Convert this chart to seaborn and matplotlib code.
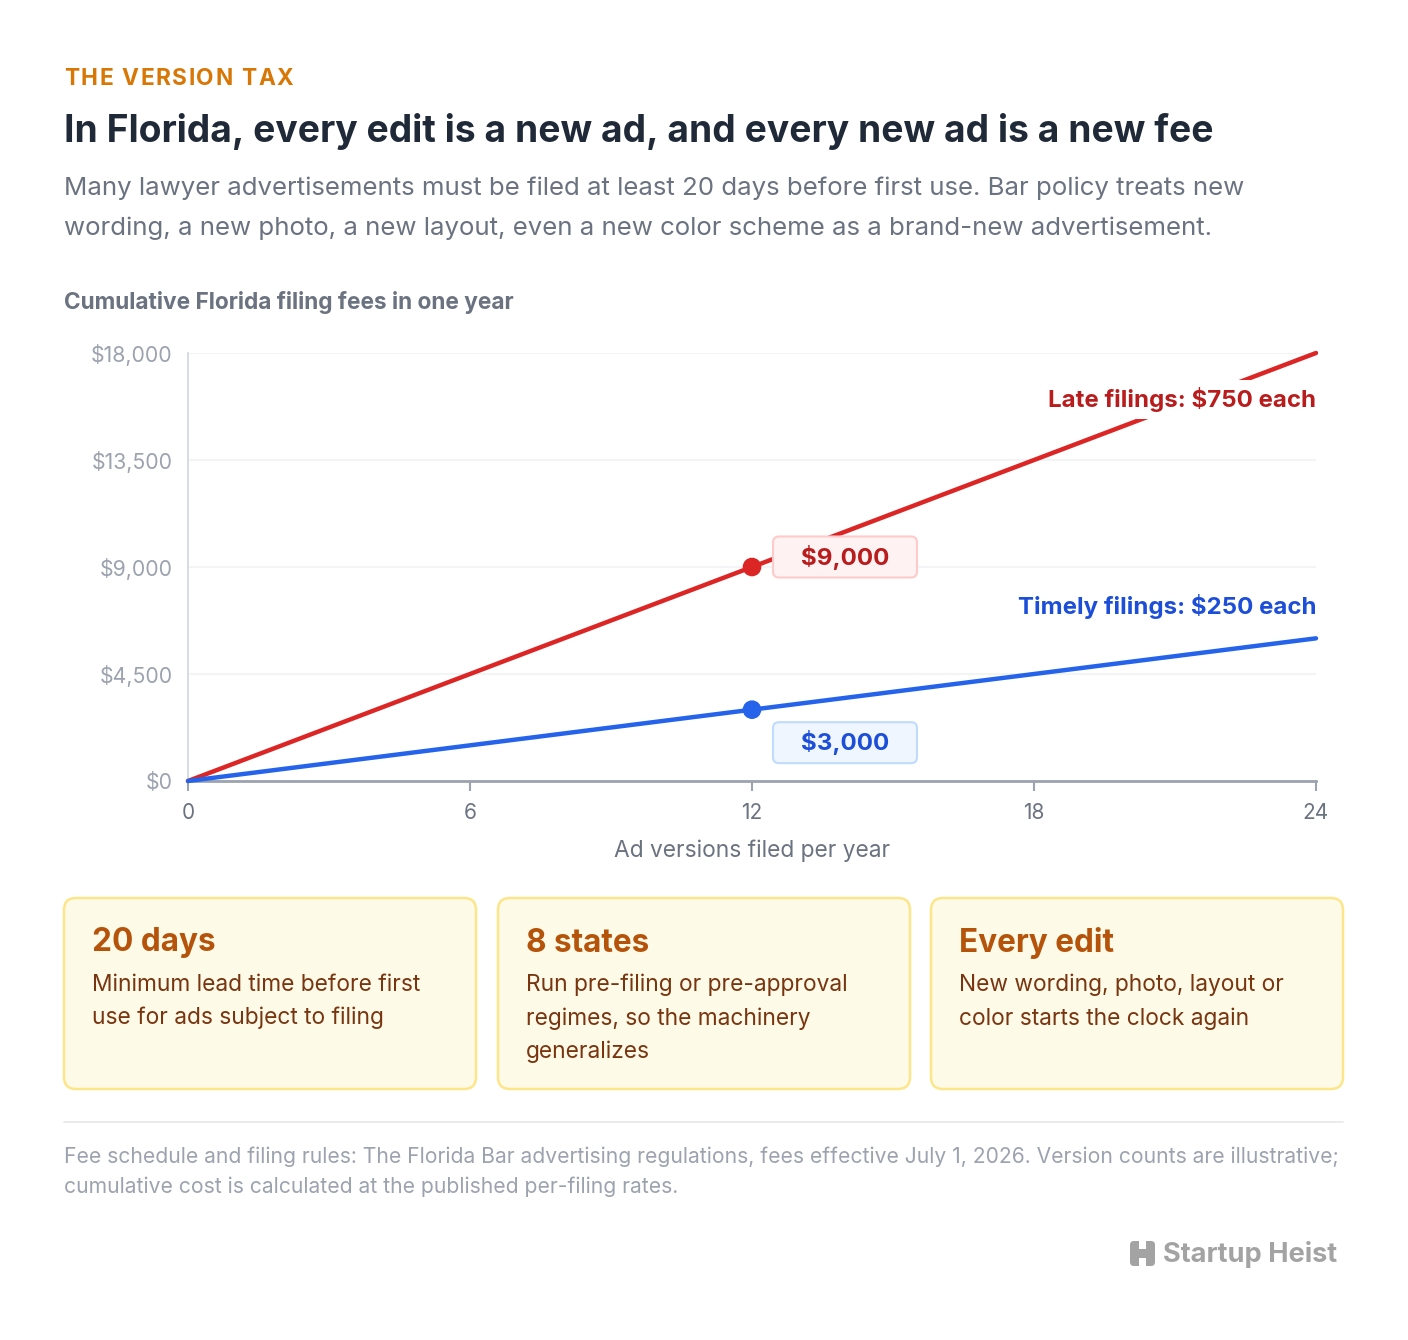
import numpy as np
import pandas as pd
import matplotlib.pyplot as plt
import seaborn as sns
from matplotlib.patches import FancyBboxPatch, Rectangle
from matplotlib.transforms import Affine2D, ScaledTranslation

# --- data ---
versions = [0, 6, 12, 18, 24]
late_fees = [0, 4500, 9000, 13500, 18000]
timely_fees = [0, 1500, 3000, 4500, 6000]
highlight_idx = 2  # 12 versions
y_ticks = [0, 4500, 9000, 13500, 18000]
x_ticks = [0, 6, 12, 18, 24]

cards = [
    ("20 days", "Minimum lead time before first\nuse for ads subject to filing"),
    ("8 states", "Run pre-filing or pre-approval\nregimes, so the machinery\ngeneralizes"),
    ("Every edit", "New wording, photo, layout or\ncolor starts the clock again"),
]

RED, RED_DARK = "#DC2626", "#B91C1C"
BLUE, BLUE_DARK = "#2563EB", "#1D4ED8"
W, H = 1408, 1340

sns.set_theme(style="white")
plt.rcParams["font.family"] = ["Inter", "DejaVu Sans"]

fig = plt.figure(figsize=(W / 100, H / 100), dpi=100)
fig.patch.set_facecolor("white")
renderer = fig.canvas.get_renderer()

# background layer in pixel coordinates for text blocks and cards
bg = fig.add_axes([0, 0, 1, 1], zorder=0)
bg.set_xlim(0, W)
bg.set_ylim(H, 0)
bg.axis("off")

# kicker with letter spacing: draw char by char
x = 64
for ch in "THE VERSION TAX":
    t = bg.text(x, 79, ch, color="#D97706", fontsize=16.3, fontweight="bold",
                va="center", ha="left")
    x += t.get_window_extent(renderer).width + 1.6 if ch != " " else 7

bg.text(64, 131, "In Florida, every edit is a new ad, and every new ad is a new fee",
        color="#1F2937", fontsize=26.8, fontweight="bold", va="center", ha="left")
bg.text(64, 208, "Many lawyer advertisements must be filed at least 20 days before first use. Bar policy treats new\n"
        "wording, a new photo, a new layout, even a new color scheme as a brand-new advertisement.",
        color="#6B7280", fontsize=18.6, va="center", ha="left", linespacing=1.9)
bg.text(64, 302, "Cumulative Florida filing fees in one year", color="#6B7280", fontsize=16.3,
        fontweight="bold", va="center", ha="left")

# stat cards
card_x = [64, 498, 931]
for (head, body), cx in zip(cards, card_x):
    bg.add_patch(FancyBboxPatch((cx, 898), 412, 191, boxstyle="round,pad=0,rounding_size=12",
                                facecolor="#FEFAE8", edgecolor="#FDE68A", linewidth=1.8))
    bg.text(cx + 28, 943, head, color="#B45309", fontsize=22.7, fontweight="bold",
            va="center", ha="left")
    bg.text(cx + 28, 974, body, color="#78350F", fontsize=16.4, va="top", ha="left",
            linespacing=1.62)

bg.plot([64, 1343], [1122, 1122], color="#E5E7EB", linewidth=1.2)
bg.text(64, 1172, "Fee schedule and filing rules: The Florida Bar advertising regulations, fees effective July 1, 2026. Version counts are illustrative;\n"
        "cumulative cost is calculated at the published per-filing rates.",
        color="#9CA3AF", fontsize=15.2, va="center", ha="left", linespacing=1.58)

# logo
bg.add_patch(FancyBboxPatch((1130, 1241), 25, 25, boxstyle="round,pad=0,rounding_size=4",
                            facecolor="#A3A3A3", edgecolor="none"))
bg.add_patch(Rectangle((1139, 1241), 7, 8, facecolor="white", edgecolor="none"))
bg.add_patch(Rectangle((1139, 1258), 7, 8, facecolor="white", edgecolor="none"))
bg.text(1163, 1254, "Startup Heist", color="#A3A3A3", fontsize=19.6, fontweight="bold",
        va="center", ha="left")

# --- chart ---
ax = fig.add_axes([188 / W, 1 - 781 / H, (1316 - 188) / W, (781 - 353) / H], zorder=1)
ax.patch.set_alpha(0)

df = pd.DataFrame({
    "versions": versions * 2,
    "fees": late_fees + timely_fees,
    "series": ["late"] * len(versions) + ["timely"] * len(versions),
})
sns.lineplot(data=df, x="versions", y="fees", hue="series",
             palette={"late": RED, "timely": BLUE}, linewidth=3.2, legend=False,
             ax=ax, zorder=3, clip_on=False)

hx = versions[highlight_idx]
pts = pd.DataFrame({"x": [hx, hx], "y": [late_fees[highlight_idx], timely_fees[highlight_idx]],
                    "series": ["late", "timely"]})
sns.scatterplot(data=pts, x="x", y="y", hue="series", palette={"late": RED, "timely": BLUE},
                s=180, edgecolor="none", legend=False, ax=ax, zorder=4, clip_on=False)

ax.set_xlim(versions[0], versions[-1])
ax.set_ylim(y_ticks[0], y_ticks[-1])
ax.set_xticks(x_ticks)
ax.set_yticks(y_ticks)
ax.set_yticklabels([f"${v:,.0f}" for v in y_ticks])
ax.tick_params(axis="y", length=0, pad=11, labelsize=15.3, labelcolor="#9CA3AF")
ax.tick_params(axis="x", length=7, width=1.5, color="#9CA3AF", pad=9, labelsize=15,
               labelcolor="#6B7280", direction="out", bottom=True)
ax.set_xlabel("Ad versions filed per year", fontsize=16.4, color="#6B7280", labelpad=12)
ax.set_ylabel("")
ax.grid(axis="y", color="#F3F4F6", linewidth=1.5)
ax.set_axisbelow(True)
for side in ["top", "right"]:
    ax.spines[side].set_visible(False)
ax.spines["left"].set_color("#D1D5DB")
ax.spines["left"].set_linewidth(1.2)
ax.spines["bottom"].set_color("#9CA3AF")
ax.spines["bottom"].set_linewidth(2)

# series labels at the right edge, on a white backing that hides the line
label_box = dict(boxstyle="square,pad=0.3", facecolor="white", edgecolor="none")
ax.text(versions[-1], 16050, "Late filings: $750 each", color=RED_DARK, fontsize=17.3,
        fontweight="bold", ha="right", va="center", bbox=label_box, zorder=5)
ax.text(versions[-1], 7320, "Timely filings: $250 each", color=BLUE_DARK, fontsize=17.3,
        fontweight="bold", ha="right", va="center", bbox=label_box, zorder=5)


def value_box(x, y, label, dy, face, edge, color):
    # box placed by pixel offset from the highlighted data point
    tr = Affine2D() + ScaledTranslation(x, y, ax.transData)
    w, h = 144, 41
    ax.add_patch(FancyBboxPatch((21, dy - h / 2), w, h, boxstyle="round,pad=0,rounding_size=6",
                                facecolor=face, edgecolor=edge, linewidth=1.5,
                                transform=tr, zorder=5, clip_on=False))
    ax.annotate(label, xy=(x, y), xytext=(21 + w / 2, dy), textcoords="offset pixels",
                ha="center", va="center", color=color, fontsize=17.4, fontweight="bold",
                zorder=6)


value_box(hx, late_fees[highlight_idx], f"${late_fees[highlight_idx]:,}", 10,
          "#FEF2F2", "#FECACA", RED_DARK)
value_box(hx, timely_fees[highlight_idx], f"${timely_fees[highlight_idx]:,}", -33,
          "#EFF6FF", "#BFDBFE", BLUE_DARK)

fig.savefig("out.png", dpi=100, facecolor="white")
